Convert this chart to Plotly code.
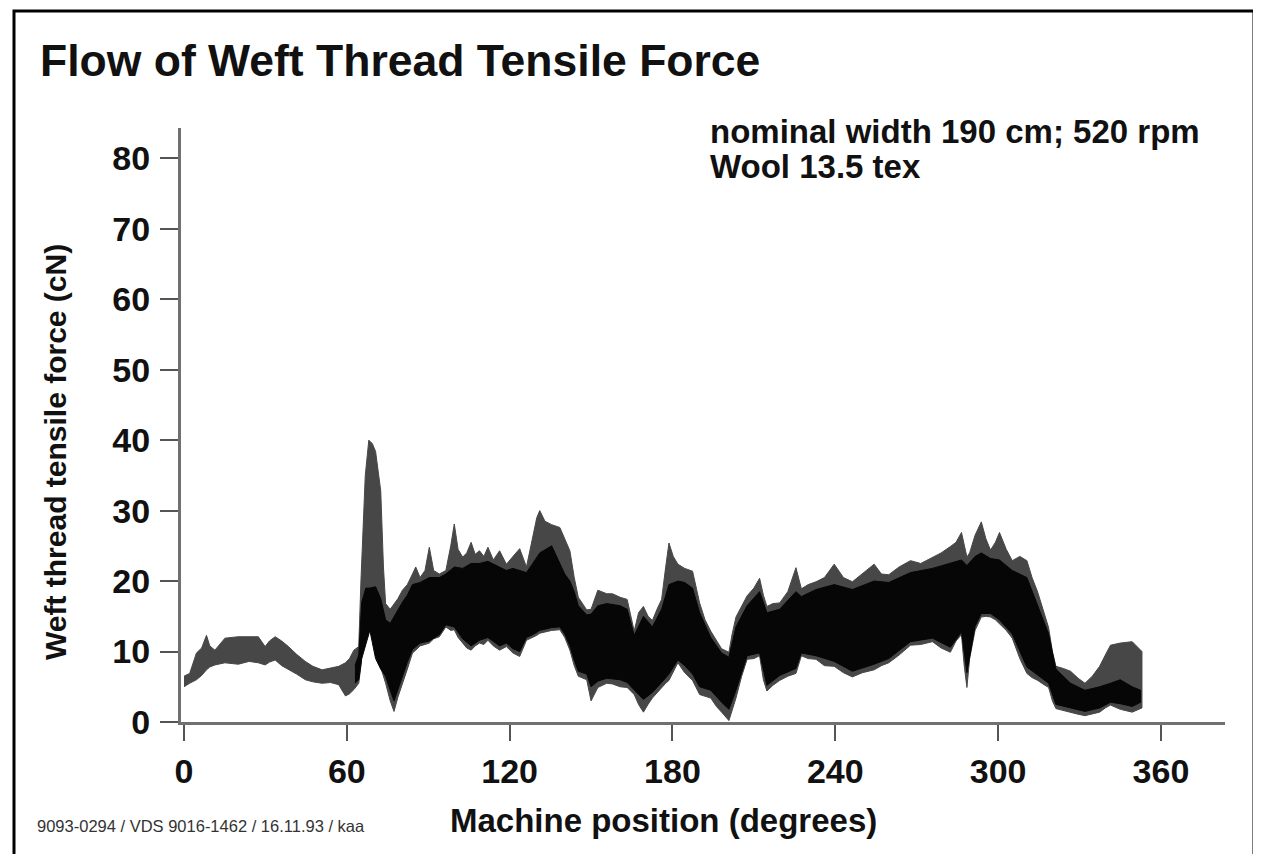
import plotly.graph_objects as go

# ---------------- data ----------------
# outer (grey) envelope of the tensile-force band
pos_outer = [0.0, 2.1, 4.6, 6.5, 8.3, 9.5, 11.4, 13.0, 15.1, 20.0, 24.0, 27.4, 29.9, 31.5, 33.6,
             36.0, 38.5, 41.5, 44.7, 47.5, 50.9, 54.0, 57.0, 59.5, 61.0, 62.6, 64.4, 65.2, 65.7,
             66.8, 68.1, 69.4, 70.6, 71.5, 72.5, 73.5, 74.3, 76.0, 77.4, 78.8, 80.5, 82.3, 84.2,
             85.4, 87.0, 88.8, 90.4, 92.0, 94.1, 96.5, 98.3, 99.6, 101.0, 102.7, 104.2, 105.8,
             107.3, 108.9, 110.5, 112.0, 114.0, 116.3, 118.8, 121.2, 123.7, 126.2, 128.5, 130.0,
             131.1, 133.0, 135.5, 138.5, 140.3, 142.2, 143.8, 145.3, 148.4, 150.0, 152.5, 155.8,
             157.9, 160.7, 163.3, 165.9, 167.5, 169.3, 171.0, 172.6, 174.3, 176.0, 177.5, 178.7,
             180.3, 182.0, 184.5, 187.4, 190.0, 192.0, 194.1, 196.2, 198.1, 200.8, 202.0, 203.4,
             205.5, 207.5, 210.0, 212.1, 213.5, 214.8, 217.0, 219.5, 222.5, 225.5, 227.5, 230.0,
             232.9, 236.0, 239.6, 243.0, 246.3, 250.0, 254.3, 257.0, 259.7, 263.5, 267.7, 271.5,
             275.8, 279.0, 282.4, 284.5, 286.5, 287.5, 288.5, 289.5, 291.5, 293.8, 295.5, 297.2,
             299.0, 300.5, 303.0, 305.2, 308.0, 310.6, 312.5, 314.6, 316.5, 318.6, 320.0, 321.3,
             324.0, 326.7, 329.5, 332.0, 334.7, 337.4, 339.5, 341.4, 345.0, 349.4, 353.0]
upper_outer = [6.5, 6.9, 9.8, 10.5, 12.3, 10.8, 10.2, 11.0, 11.9, 12.1, 12.1, 12.1, 10.7, 11.5, 12.1,
               11.5, 10.7, 9.6, 8.6, 7.9, 7.4, 7.6, 7.9, 8.4, 9.0, 10.2, 10.7, 20.0, 24.3,
               35.0, 40.0, 39.5, 38.4, 36.0, 32.8, 22.0, 16.8, 16.0, 16.8, 17.5, 18.7, 19.5, 21.0,
               22.0, 20.5, 21.5, 24.8, 21.5, 21.0, 21.5, 25.0, 28.1, 24.5, 23.4, 24.0, 25.5,
               23.8, 24.3, 23.5, 24.8, 23.0, 24.3, 22.4, 23.5, 24.6, 22.0, 26.0, 29.0,
               30.0, 28.5, 28.0, 27.6, 26.0, 24.3, 20.5, 17.7, 15.9, 16.0, 18.7, 18.2,
               18.2, 17.7, 17.4, 12.9, 15.5, 16.4, 15.0, 14.4, 16.0, 17.4, 22.0, 25.4,
               23.5, 22.4, 21.8, 21.4, 16.9, 14.5, 12.9, 11.5, 10.4, 9.9, 12.5, 14.9,
               16.5, 17.9, 19.0, 20.4, 18.0, 16.4, 16.8, 16.9, 18.5, 21.9, 18.9, 19.5,
               19.9, 20.5, 22.4, 20.5, 19.9, 21.0, 22.4, 21.0, 20.9, 22.0, 22.9, 22.5,
               23.4, 24.0, 24.9, 25.5, 26.9, 25.0, 23.4, 24.0, 26.5, 28.4, 26.0, 24.4,
               25.5, 26.9, 24.5, 22.9, 23.5, 22.9, 20.5, 18.4, 16.0, 13.4, 10.0, 7.9,
               7.6, 7.2, 6.2, 5.5, 6.5, 7.9, 9.5, 10.9, 11.2, 11.4, 10.0]
lower_outer = [5.0, 5.5, 6.0, 6.6, 7.4, 7.8, 8.1, 8.2, 8.4, 8.2, 8.6, 8.4, 8.1, 8.5, 8.8,
               8.0, 7.4, 6.8, 6.0, 5.7, 5.5, 5.6, 5.3, 3.7, 4.0, 4.6, 5.5, 8.0, 10.2,
               12.5, 14.9, 12.0, 11.2, 9.0, 7.4, 6.5, 5.5, 3.0, 1.5, 3.5, 5.5, 7.5, 9.8,
               10.2, 10.8, 11.0, 11.2, 11.8, 12.1, 13.5, 13.0, 13.1, 12.0, 11.2, 10.5, 10.2,
               10.8, 11.2, 11.0, 11.6, 10.8, 10.2, 10.7, 9.8, 9.3, 11.6, 12.0, 12.3,
               12.6, 12.8, 13.0, 13.1, 12.0, 10.2, 8.0, 6.5, 6.0, 3.0, 4.9, 5.5,
               5.4, 5.0, 4.9, 3.9, 2.5, 1.4, 2.5, 3.4, 4.2, 4.9, 5.5, 5.9,
               7.0, 8.4, 7.0, 5.9, 3.9, 3.6, 3.4, 2.2, 1.4, 0.2, 1.8, 3.4,
               6.5, 8.9, 9.0, 9.4, 6.0, 4.4, 5.2, 5.9, 6.5, 6.9, 9.4, 9.0,
               8.9, 8.0, 7.9, 7.0, 6.4, 7.0, 7.4, 8.0, 8.4, 9.5, 10.9, 11.0,
               11.4, 10.5, 9.9, 11.5, 12.4, 8.0, 4.9, 9.0, 13.0, 14.9, 15.0, 14.9,
               14.5, 13.9, 13.0, 11.9, 9.0, 6.9, 6.3, 5.9, 5.4, 4.9, 3.0, 1.9,
               1.6, 1.4, 1.1, 0.9, 1.2, 1.4, 2.0, 2.4, 1.8, 1.4, 2.0]

# inner (black) core of the band
pos_core = [63.0, 64.4, 65.5, 67.0, 68.5, 70.6, 72.5, 74.3, 76.0, 77.4, 78.8, 80.5, 82.3, 84.2,
            87.0, 90.4, 94.1, 96.5, 99.6, 102.7, 105.8, 108.9, 112.0, 116.3, 118.8, 121.2,
            123.7, 126.2, 128.5, 131.1, 135.5, 138.5, 140.3, 142.2, 143.8, 145.3, 148.4, 150.0,
            152.5, 155.8, 160.7, 163.3, 165.9, 169.3, 172.6, 176.0, 178.7, 182.0, 184.5, 187.4,
            190.0, 194.1, 198.1, 200.8, 203.4, 207.5, 212.1, 214.8, 219.5, 225.5, 227.5, 232.9,
            239.6, 246.3, 254.3, 259.7, 267.7, 275.8, 282.4, 286.5, 288.5, 291.5, 293.8, 297.2,
            300.5, 305.2, 310.6, 314.6, 318.6, 321.3, 326.7, 332.0, 337.4, 341.4, 345.0, 349.4,
            352.5]
upper_core = [8.0, 9.5, 17.0, 19.0, 19.0, 19.2, 17.5, 14.5, 14.0, 15.0, 16.0, 17.0, 18.0, 19.5,
              19.8, 20.5, 20.5, 21.0, 22.0, 21.8, 22.5, 22.5, 22.8, 22.0, 21.5, 21.8,
              21.5, 21.2, 22.5, 24.0, 25.0, 22.5, 21.0, 20.0, 18.5, 16.5, 15.2, 15.3,
              16.5, 16.8, 16.5, 16.0, 12.3, 15.0, 13.5, 16.0, 19.5, 20.0, 19.8, 19.0,
              15.5, 12.0, 9.8, 9.2, 13.5, 16.5, 18.5, 15.5, 16.0, 18.5, 17.8, 18.8,
              19.5, 18.8, 20.0, 19.8, 21.2, 21.8, 22.5, 23.0, 22.2, 23.5, 24.0, 23.2,
              23.0, 21.5, 20.5, 16.5, 12.5, 7.5, 5.5, 4.5, 5.0, 5.5, 6.0, 5.0,
              4.5]
lower_core = [5.5, 6.0, 9.0, 11.0, 13.0, 9.0, 7.5, 6.5, 4.5, 3.0, 4.5, 6.5, 8.5, 10.3,
              11.2, 11.5, 12.4, 13.8, 13.5, 11.8, 10.8, 11.6, 12.0, 10.8, 11.2, 10.4,
              10.0, 12.0, 12.4, 13.0, 13.4, 13.5, 12.5, 10.8, 8.8, 7.2, 6.8, 5.0,
              5.8, 6.2, 6.0, 5.6, 4.6, 3.2, 4.2, 5.6, 6.8, 8.8, 8.0, 6.8,
              5.0, 4.5, 2.8, 1.8, 4.5, 9.4, 9.8, 5.2, 6.6, 7.6, 9.8, 9.4,
              8.6, 7.2, 8.2, 9.0, 11.4, 11.9, 10.6, 12.8, 7.0, 13.6, 15.4, 15.4,
              14.5, 12.5, 7.8, 6.6, 5.5, 2.5, 2.0, 1.5, 2.0, 2.8, 2.6, 2.2,
              2.8]

x_ticks = [0, 60, 120, 180, 240, 300, 360]
y_ticks = [0, 10, 20, 30, 40, 50, 60, 70, 80]

title_text = "Flow of Weft Thread Tensile Force"
note_line1 = "nominal width 190 cm; 520 rpm"
note_line2 = "Wool 13.5 tex"
footnote = "9093-0294 / VDS 9016-1462 / 16.11.93 / kaa"
x_title = "Machine position (degrees)"
y_title = "Weft thread tensile force (cN)"

# ---------------- figure ----------------
FONT = "Liberation Sans, Arial, Helvetica, sans-serif"
INK = "#111111"

OFF = 8                       # page body margin of the html page
PAGE_W, PAGE_H = 1261, 854
W, H = PAGE_W - OFF, PAGE_H - OFF
# plot area in page pixels: x 181..1225, y 128..722
PL, PR, PT, PB = 181, 1225, 128, 722
L, T = PL - OFF, PT - OFF
R, B = W - (PR - OFF), H - (PB - OFF)
plot_w = PR - PL
plot_h = PB - PT


def px_x(px):
    return (px - PL) / plot_w


def px_y(py):
    return (PB - py) / plot_h


fig = go.Figure()

fig.add_trace(go.Scatter(
    x=pos_outer + pos_outer[::-1],
    y=upper_outer + lower_outer[::-1],
    fill="toself", fillcolor="#474747",
    line=dict(color="#474747", width=1),
    mode="lines", hoverinfo="skip", showlegend=False,
))
fig.add_trace(go.Scatter(
    x=pos_core + pos_core[::-1],
    y=upper_core + lower_core[::-1],
    fill="toself", fillcolor="#060606",
    line=dict(color="#060606", width=1),
    mode="lines", hoverinfo="skip", showlegend=False,
))

fig.update_layout(
    width=W, height=H,
    margin=dict(l=L, r=R, t=T, b=B, pad=0),
    paper_bgcolor="white", plot_bgcolor="white",
    font=dict(family=FONT, color=INK),
    showlegend=False,
    title=dict(
        text=title_text, x=(40 - OFF) / W, xanchor="left", xref="container",
        y=1 - (60 - OFF) / H, yanchor="middle", yref="container",
        font=dict(family=FONT, size=44.5, color=INK, weight="bold"),
    ),
)

fig.update_xaxes(
    range=[-1.1, 383.6], tickmode="array", tickvals=x_ticks,
    ticktext=[str(v) for v in x_ticks],
    showgrid=False, zeroline=False,
    showline=True, linecolor="#707070", linewidth=3,
    ticks="outside", ticklen=16, tickwidth=2, tickcolor="#555555",
    tickfont=dict(family=FONT, size=34, color=INK, weight="bold"),
    ticklabelstandoff=1,
    automargin=False,
)
fig.update_yaxes(
    range=[0, 84.3], tickmode="array", tickvals=y_ticks,
    ticktext=[str(v) for v in y_ticks],
    showgrid=False, zeroline=False,
    showline=True, linecolor="#707070", linewidth=3,
    ticks="outside", ticklen=18, tickwidth=2, tickcolor="#555555",
    tickfont=dict(family=FONT, size=34, color=INK, weight="bold"),
    ticklabelstandoff=3,
    automargin=False,
)

# axis titles (placed like in the reference, not centred on the plot area)
fig.add_annotation(
    text=x_title, xref="paper", yref="paper",
    x=px_x(663), y=px_y(820), xanchor="center", yanchor="middle", showarrow=False,
    font=dict(family=FONT, size=33, color=INK, weight="bold"),
)
fig.add_annotation(
    text=y_title, xref="paper", yref="paper", textangle=-90,
    x=px_x(55), y=px_y(452), xanchor="center", yanchor="middle", showarrow=False,
    font=dict(family=FONT, size=30, color=INK, weight="bold"),
)

fig.add_annotation(
    text=note_line1, xref="paper", yref="paper",
    x=px_x(708), y=px_y(132), xanchor="left", yanchor="middle", showarrow=False,
    font=dict(family=FONT, size=33, color=INK, weight="bold"),
)
fig.add_annotation(
    text=note_line2, xref="paper", yref="paper",
    x=px_x(708), y=px_y(166), xanchor="left", yanchor="middle", showarrow=False,
    font=dict(family=FONT, size=33, color=INK, weight="bold"),
)
fig.add_annotation(
    text=footnote, xref="paper", yref="paper",
    x=px_x(35), y=px_y(826), xanchor="left", yanchor="middle", showarrow=False,
    font=dict(family=FONT, size=16.5, color="#333333"),
)

# surrounding frame of the scanned figure
fig.add_shape(
    type="rect", xref="paper", yref="paper",
    x0=px_x(14), x1=px_x(1254), y0=px_y(900), y1=px_y(11),
    line=dict(color="black", width=3), fillcolor="rgba(0,0,0,0)", layer="above",
)

fig.write_html("out.html")
